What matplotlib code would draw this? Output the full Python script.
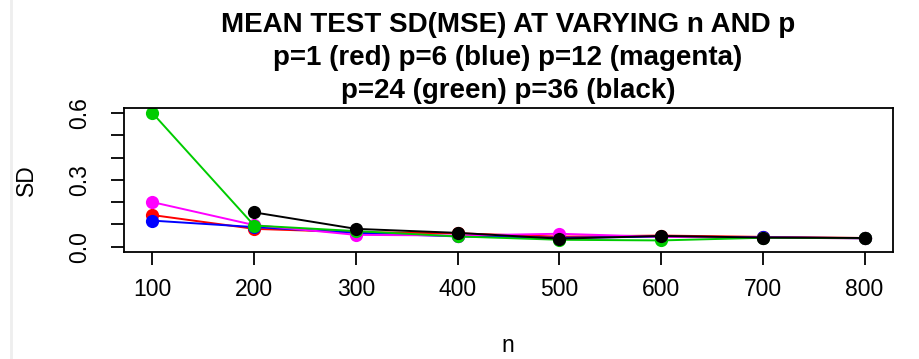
import matplotlib.pyplot as plt
from matplotlib.lines import Line2D

plt.rcParams['font.family'] = ['Liberation Sans', 'DejaVu Sans']

# Sample sizes and mean test SD(MSE) for each p
n_values = [100, 200, 300, 400, 500, 600, 700, 800]
sd_p1 = [0.142, 0.080, 0.065, 0.060, 0.045, 0.050, 0.044, 0.039]
sd_p6 = [0.117, 0.088, 0.062, 0.046, 0.040, 0.045, 0.042, 0.038]
sd_p12 = [0.200, 0.097, 0.053, 0.050, 0.058, 0.044, 0.041, 0.037]
sd_p24 = [0.600, 0.095, 0.070, 0.046, 0.031, 0.028, 0.040, 0.038]
sd_p36 = [None, 0.154, 0.080, 0.062, 0.036, 0.048, 0.041, 0.039]

series = [
    (sd_p1, 'red'),
    (sd_p6, 'blue'),
    (sd_p12, 'magenta'),
    (sd_p24, '#00cc00'),
    (sd_p36, 'black'),
]

y_ticks = [0.0, 0.1, 0.2, 0.3, 0.4, 0.5, 0.6]
y_labels = ['0.0', '', '', '0.3', '', '', '0.6']

title_lines = [
    'MEAN TEST SD(MSE) AT VARYING n AND p',
    'p=1 (red) p=6 (blue) p=12 (magenta)',
    'p=24 (green) p=36 (black)',
]

fig = plt.figure(figsize=(9.19, 3.59), dpi=100)
ax = fig.add_axes([0.1349, 0.298, 0.8368, 0.402])

for values, color in series:
    xs = [n for n, v in zip(n_values, values) if v is not None]
    ys = [v for v in values if v is not None]
    ax.plot(xs, ys, color=color, linewidth=1.4, marker='o',
            markersize=9.5, markeredgewidth=0)

ax.set_xlim(72, 828)
ax.set_ylim(-0.024, 0.624)
ax.set_xticks(n_values)
ax.set_yticks(y_ticks)
ax.set_yticklabels(y_labels, rotation=90, va='center')
ax.tick_params(direction='out', length=9.5, width=1.3, labelsize=16.5)
ax.tick_params(axis='x', pad=9.5)
ax.tick_params(axis='y', pad=14)
for spine in ax.spines.values():
    spine.set_linewidth(1.3)

# axis titles placed like R's mtext lines
pos = ax.get_position()
fig.text(26 / 919, pos.y0 + pos.height / 2, 'SD',
         rotation=90, ha='center', va='center', fontsize=16.5)
fig.text(508 / 919, 1 - 352 / 359, 'n', ha='center', va='baseline',
         fontsize=16.5)

for line, base in zip(title_lines, [32, 65, 98]):
    fig.text(508 / 919, 1 - base / 359, line, ha='center', va='baseline',
             fontsize=20, fontweight='bold')

# light page edge on the left
fig.add_artist(Line2D([0.012, 0.012], [0, 1], color='#eeeeee', linewidth=2,
                      transform=fig.transFigure))

fig.savefig('out.png', dpi=100)
